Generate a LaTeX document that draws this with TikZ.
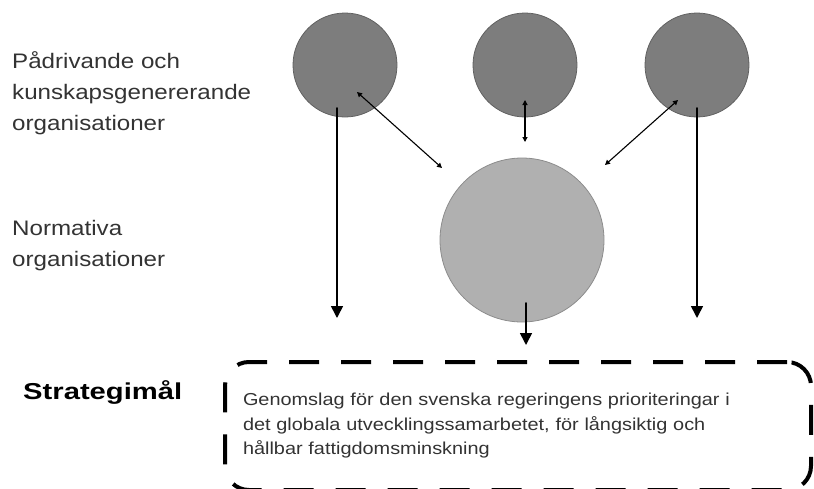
\documentclass[tikz,border=0pt]{standalone}
\usepackage{fontspec}
\setmainfont{Liberation Sans}[FakeStretch=1.15]
\newfontfamily\goalbold{Liberation Sans Bold}[FakeStretch=1.27]
\usetikzlibrary{calc,arrows.meta,positioning}

\begin{document}
\begin{tikzpicture}[line cap=round,line join=round,x=1pt,y=-1pt,
  actor/.style={circle,draw=black!62,fill=black!51,line width=0.8pt,minimum size=104pt,inner sep=0pt},
  normcirc/.style={circle,draw=black!45,fill=black!31,line width=0.8pt,minimum size=164pt,inner sep=0pt},
  rowlabel/.style={anchor=west,align=left,inner sep=0pt,font=\fontsize{21}{31}\selectfont,text=black!80},
  longarr/.style={line width=1.6pt,-{Triangle[width=12pt,length=12pt]}},
  twoway/.style={line width=1.1pt,{Triangle[width=5pt,length=5pt]}-{Triangle[width=5pt,length=5pt]}},
  goalbox/.style={draw,line width=4pt,line cap=butt,rounded corners=24pt,dash pattern=on 30pt off 22pt,
    minimum width=586pt,minimum height=128pt,inner sep=0pt,text width=550pt,align=left,
    font=\fontsize{17.3}{24.5}\selectfont,text=black!80}]
\useasboundingbox (0,0) rectangle (814,488);
% organisationer
\node[actor] (k1) at (345,65) {};
\node[actor] (k2) at (525,65) {};
\node[actor] (k3) at (697,65) {};
\node[normcirc] (norm) at (522,240) {};
% rubriker till vanster
\node[rowlabel] (lab1) at (12,93) {Pådrivande och\\kunskapsgenererande\\organisationer};
\node[rowlabel] (lab2) at (12,246) {Normativa\\organisationer};
\node[rowlabel,font=\fontsize{23}{24}\goalbold,text=black] (lab3) at (23,392) {Strategimål};
% strategimalet
\node[goalbox] (goal) at (518,426) {Genomslag för den svenska regeringens prioriteringar i\\det globala utvecklingssamarbetet, för långsiktig och\\hållbar fattigdomsminskning};
% pilar
\draw[twoway] ($(k1)+(12,27)$) -- ($(norm)+(-80,-72)$);
\draw[twoway] ($(k2)+(0,35)$) -- ($(norm)+(3,-98)$);
\draw[twoway] ($(k3)+(-19,35)$) -- ($(norm)+(83,-75)$);
\draw[longarr] ($(k1)+(-8,43)$) -- ($(k1)+(-8,253)$);
\draw[longarr] ($(k3)+(0,43)$) -- ($(k3)+(0,253)$);
\draw[longarr] ($(norm)+(4,63)$) -- ($(norm)+(4,105)$);
\end{tikzpicture}
\end{document}
